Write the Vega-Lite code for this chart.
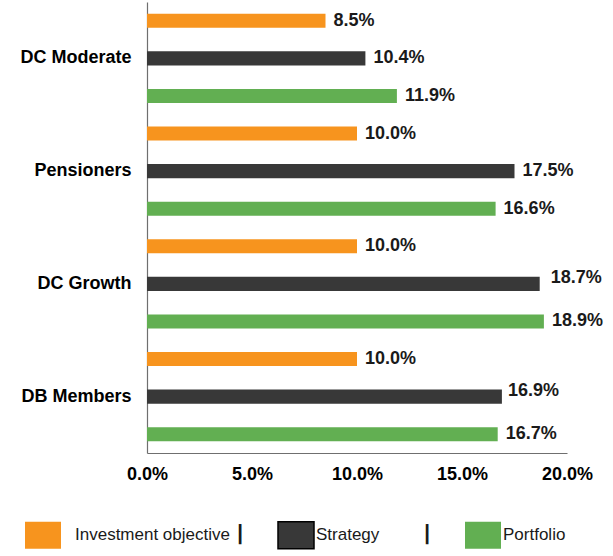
{
  "$schema": "https://vega.github.io/schema/vega-lite/v6.json",
  "autosize": "none",
  "padding": {"left": 147, "top": 2, "right": 46, "bottom": 103},
  "width": 420,
  "height": 451,
  "background": "white",
  "config": {
    "view": {"stroke": null},
    "font": "Liberation Sans"
  },
  "data": {
    "values": [
      {"group": "DC Moderate", "series": "Investment objective", "value": 0.085},
      {"group": "DC Moderate", "series": "Strategy", "value": 0.104},
      {"group": "DC Moderate", "series": "Portfolio", "value": 0.119},
      {"group": "Pensioners", "series": "Investment objective", "value": 0.100},
      {"group": "Pensioners", "series": "Strategy", "value": 0.175},
      {"group": "Pensioners", "series": "Portfolio", "value": 0.166},
      {"group": "DC Growth", "series": "Investment objective", "value": 0.100},
      {"group": "DC Growth", "series": "Strategy", "value": 0.187},
      {"group": "DC Growth", "series": "Portfolio", "value": 0.189},
      {"group": "DB Members", "series": "Investment objective", "value": 0.100},
      {"group": "DB Members", "series": "Strategy", "value": 0.169},
      {"group": "DB Members", "series": "Portfolio", "value": 0.167}
    ]
  },
  "encoding": {
    "y": {
      "field": "group",
      "type": "nominal",
      "sort": ["DC Moderate", "Pensioners", "DC Growth", "DB Members"],
      "scale": {"paddingInner": 0, "paddingOuter": 0},
      "axis": {
        "title": null,
        "ticks": false,
        "labelFont": "Liberation Sans",
        "labelFontSize": 18,
        "labelFontWeight": "bold",
        "labelColor": "#000000",
        "labelPadding": 16,
        "domainColor": "#6f6f6f",
        "domainWidth": 1.2
      }
    },
    "yOffset": {
      "field": "series",
      "type": "nominal",
      "sort": ["Investment objective", "Strategy", "Portfolio"],
      "scale": {"paddingInner": 0.627, "paddingOuter": 0.3135}
    },
    "x": {
      "field": "value",
      "type": "quantitative",
      "scale": {"domain": [0, 0.2], "nice": false},
      "axis": {
        "title": null,
        "values": [0, 0.05, 0.1, 0.15, 0.2],
        "format": ".1%",
        "grid": false,
        "ticks": false,
        "labelFlush": false,
        "labelOverlap": false,
        "labelFont": "Liberation Sans",
        "labelFontSize": 18,
        "labelFontWeight": "bold",
        "labelColor": "#000000",
        "labelPadding": 12,
        "domainColor": "#6f6f6f",
        "domainWidth": 1.2
      }
    }
  },
  "layer": [
    {
      "mark": {"type": "bar"},
      "encoding": {
        "color": {
          "field": "series",
          "type": "nominal",
          "sort": ["Investment objective", "Strategy", "Portfolio"],
          "scale": {
            "domain": ["Investment objective", "Strategy", "Portfolio"],
            "range": ["#F7941E", "#383838", "#62AF52"]
          },
          "legend": {
            "orient": "none",
            "legendX": -122,
            "legendY": 514,
            "direction": "horizontal",
            "title": null,
            "padding": 0,
            "symbolType": "M-1,-0.75H1V0.75H-1Z",
            "symbolSize": 1296,
            "symbolStrokeWidth": 0,
            "symbolOpacity": 1,
            "labelFont": "Liberation Sans",
            "labelFontSize": 17,
            "labelColor": "#1a1a1a",
            "labelOffset": 0,
            "labelLimit": 500,
            "columnPadding": 30,
            "labelExpr": "datum.value === 'Investment objective' ? 'Investment objective\u00a0┃' : datum.value === 'Strategy' ? 'Strategy\u00a0\u00a0\u00a0\u00a0\u00a0\u00a0\u00a0\u00a0\u00a0┃' : datum.label",
            "encode": {
              "symbols": {
                "update": {
                  "x": {"signal": "datum.value === 'Portfolio' ? 8 : 18"},
                  "stroke": {"signal": "datum.value === 'Strategy' ? '#000000' : 'transparent'"},
                  "strokeWidth": {"value": 1.5}
                }
              },
              "labels": {
                "update": {
                  "dx": {"signal": "datum.value === 'Investment objective' ? 12 : datum.value === 'Portfolio' ? -10 : 0"}
                }
              }
            }
          }
        }
      }
    },
    {
      "mark": {
        "type": "text",
        "align": "left",
        "baseline": "middle",
        "dx": {"expr": "datum.series === 'Strategy' && datum.group === 'DC Growth' ? 11 : datum.series === 'Strategy' && datum.group === 'DB Members' ? 6 : 8"},
        "dy": {"expr": "datum.series === 'Strategy' && (datum.group === 'DC Growth' || datum.group === 'DB Members') ? -6 : 0"},
        "font": "Liberation Sans",
        "fontSize": 18,
        "fontWeight": "bold",
        "color": "#1a1a1a"
      },
      "encoding": {
        "text": {"field": "value", "type": "quantitative", "format": ".1%"}
      }
    }
  ]
}
